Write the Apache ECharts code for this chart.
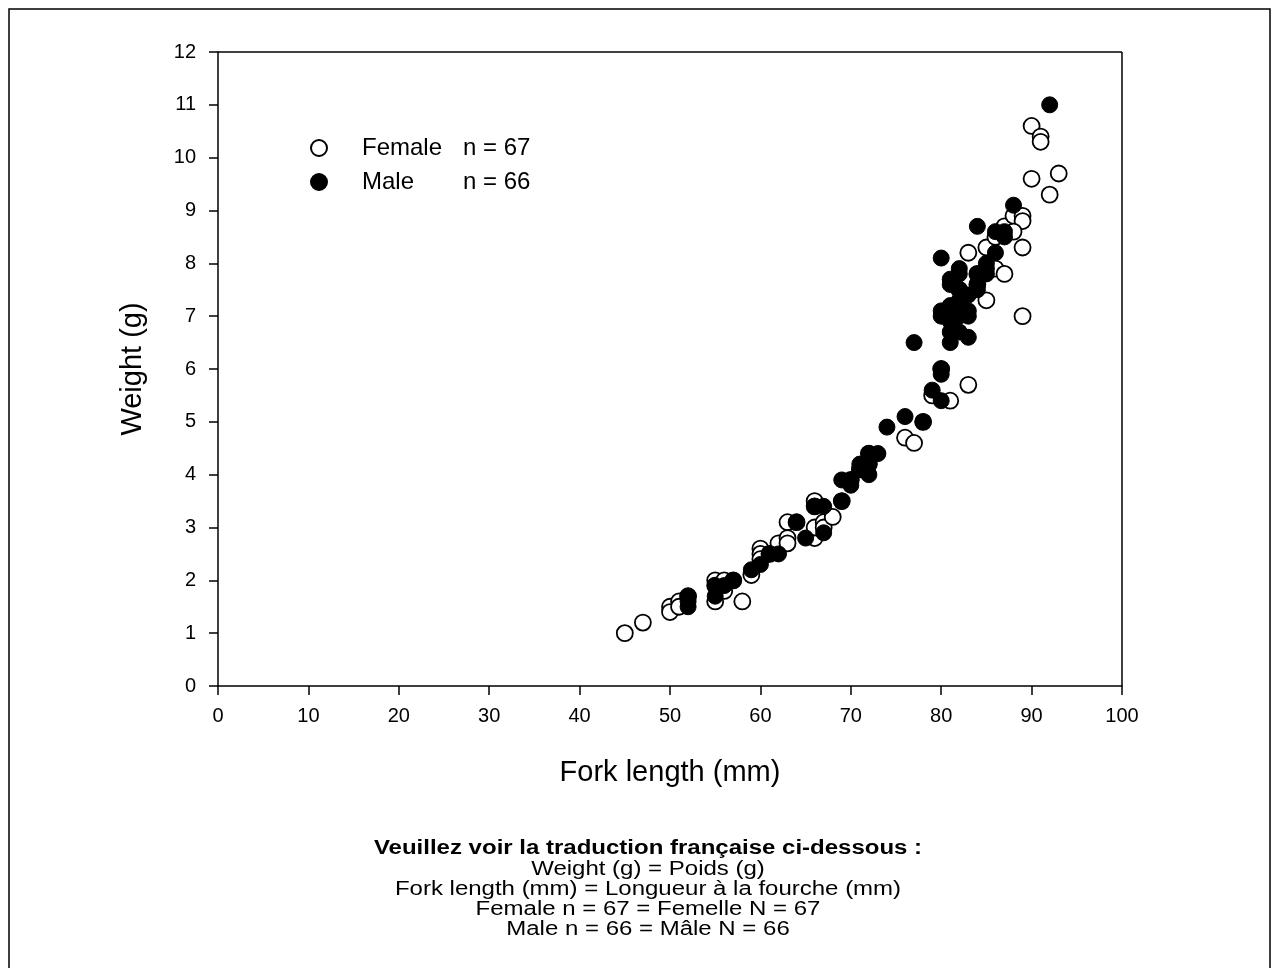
<!DOCTYPE html>
<html>
<head>
<meta charset="utf-8">
<script src="https://cdn.jsdelivr.net/npm/echarts@6/dist/echarts.min.js"></script>
<style>
html,body{margin:0;padding:0;background:#fff;}
#c{width:1278px;height:968px;}
</style>
</head>
<body>
<div id="c"></div>
<script>
const xTicks = [0,10,20,30,40,50,60,70,80,90,100];
const yTicks = [0,1,2,3,4,5,6,7,8,9,10,11,12];
const legendLabels = ['Female', 'Male'];
const legendCounts = ['n = 67', 'n = 66'];
const xTitle = 'Fork length (mm)';
const yTitle = 'Weight (g)';
const noteTitle = 'Veuillez voir la traduction française ci-dessous :';
const noteLines = ['Weight (g) = Poids (g)', 'Fork length (mm) = Longueur à la fourche (mm)', 'Female n = 67 = Femelle N = 67', 'Male n = 66 = Mâle N = 66'];

const female = [
  [45,1.0],[47,1.2],[50,1.5],[50,1.4],[51,1.6],[51,1.5],[55,2.0],[55,1.6],[55,1.9],[56,2.0],
  [56,1.8],[58,1.6],[59,2.1],[60,2.6],[60,2.5],[60,2.4],[62,2.6],[62,2.7],[63,3.1],[63,2.8],
  [63,2.7],[66,3.5],[66,3.4],[66,2.8],[66,3.0],[67,3.1],[67,3.0],[68,3.2],[70,3.9],[71,4.1],
  [72,4.2],[76,4.7],[77,4.6],[79,5.5],[81,5.4],[83,5.7],[83,8.2],[85,8.3],[85,7.3],[86,7.9],
  [87,7.8],[87,8.7],[88,8.9],[89,8.9],[89,8.8],[89,8.3],[89,7.0],[90,10.6],[90,9.6],[91,10.4],
  [91,10.3],[92,9.3],[93,9.7],[84,7.6],[82,7.2],[86,8.5],[88,8.6],[80,6.0],[52,1.7],[57,2.0],
  [61,2.5],[64,3.1],[69,3.5],[72,4.4],[78,5.0],[82,7.5],[84,7.8]
];
const male = [
  [52,1.7],[52,1.5],[52,1.6],[55,1.9],[55,1.7],[56,1.9],[57,2.0],[59,2.2],[60,2.3],[61,2.5],
  [62,2.5],[64,3.1],[65,2.8],[66,3.4],[67,3.4],[67,2.9],[69,3.5],[69,3.9],[70,3.8],[71,4.2],
  [72,4.4],[72,4.0],[72,4.2],[73,4.4],[74,4.9],[76,5.1],[77,6.5],[78,5.0],[79,5.6],[80,6.0],
  [80,5.9],[80,5.4],[80,7.0],[80,8.1],[81,7.7],[81,7.2],[81,6.7],[81,6.5],[82,7.9],[82,7.5],
  [82,7.3],[82,7.0],[82,6.7],[83,7.1],[83,7.4],[83,6.6],[84,8.7],[84,7.8],[84,7.5],[85,8.0],
  [85,7.8],[86,8.6],[86,8.2],[87,8.5],[87,8.6],[88,9.1],[92,11.0],[81,7.6],[82,7.8],[83,7.0],
  [85,7.9],[84,7.6],[80,7.1],[81,6.9],[70,3.9],[71,4.1]
];

const FONT = 'Liberation Sans, Arial, sans-serif';
const chart = echarts.init(document.getElementById('c'), null, {renderer:'canvas'});

const cx = 648;
const noteGraphics = [{
  type:'text', x: cx, y: 838, scaleX:1.2,
  style:{text: noteTitle, font:'bold 20px ' + FONT, fill:'#000', textAlign:'center'}
}];
noteLines.forEach((t,i)=>{
  noteGraphics.push({type:'text', x: cx, y: 859 + i*20, scaleX:1.2,
    style:{text:t, font:'20px ' + FONT, fill:'#000', textAlign:'center'}});
});

chart.setOption({
  animation:false,
  backgroundColor:'#fff',
  grid:{left:218, top:52, width:904, height:634, show:false},
  xAxis:{
    type:'value', min:0, max:100, interval:10,
    name:xTitle, nameLocation:'middle', nameGap:72,
    nameTextStyle:{fontFamily:FONT, fontSize:29, color:'#000'},
    axisLine:{show:true, onZero:false, lineStyle:{color:'#000', width:1.5}},
    axisTick:{show:true, length:9, inside:false, lineStyle:{color:'#000', width:1.5}},
    axisLabel:{fontFamily:FONT, fontSize:20, color:'#000', margin:20},
    splitLine:{show:false}
  },
  yAxis:{
    type:'value', min:0, max:12, interval:1,
    name:yTitle, nameLocation:'middle', nameGap:71, nameRotate:90,
    nameTextStyle:{fontFamily:FONT, fontSize:29, color:'#000'},
    axisLine:{show:true, onZero:false, lineStyle:{color:'#000', width:1.5}},
    axisTick:{show:true, length:9, inside:false, lineStyle:{color:'#000', width:1.5}},
    axisLabel:{fontFamily:FONT, fontSize:20, color:'#000', margin:22},
    splitLine:{show:false}
  },
  legend:{
    orient:'vertical', left:305, top:131, itemGap:10, itemWidth:16, itemHeight:16,
    data:[{name:legendLabels[0], icon:'circle'},{name:legendLabels[1], icon:'circle'}],
    formatter:(name)=>{
      const i = legendLabels.indexOf(name);
      return '{a|' + name + '}{b|' + legendCounts[i] + '}';
    },
    textStyle:{
      fontFamily:FONT, fontSize:24, color:'#000',
      rich:{
        a:{fontFamily:FONT, fontSize:24, color:'#000', width:101, padding:[0,0,0,30]},
        b:{fontFamily:FONT, fontSize:24, color:'#000'}
      }
    },
    selectedMode:false
  },
  graphic:[
    {type:'rect', shape:{x:9, y:9, width:1261, height:1000}, style:{fill:null, stroke:'#000', lineWidth:1.5}, silent:true, z:0},
    {type:'line', shape:{x1:218, y1:52, x2:1122, y2:52}, style:{stroke:'#000', lineWidth:1.5}, z:5},
    {type:'line', shape:{x1:1122, y1:52, x2:1122, y2:686}, style:{stroke:'#000', lineWidth:1.5}, z:5}
  ].concat(noteGraphics),
  series:[
    {
      name:legendLabels[0], type:'scatter', data:female, symbol:'circle', symbolSize:16,
      itemStyle:{color:'#fff', borderColor:'#000', borderWidth:1.8, opacity:1}, z:2
    },
    {
      name:legendLabels[1], type:'scatter', data:male, symbol:'circle', symbolSize:16,
      itemStyle:{color:'#000', borderColor:'#000', borderWidth:1, opacity:1}, z:3
    }
  ]
});
</script>
</body>
</html>
